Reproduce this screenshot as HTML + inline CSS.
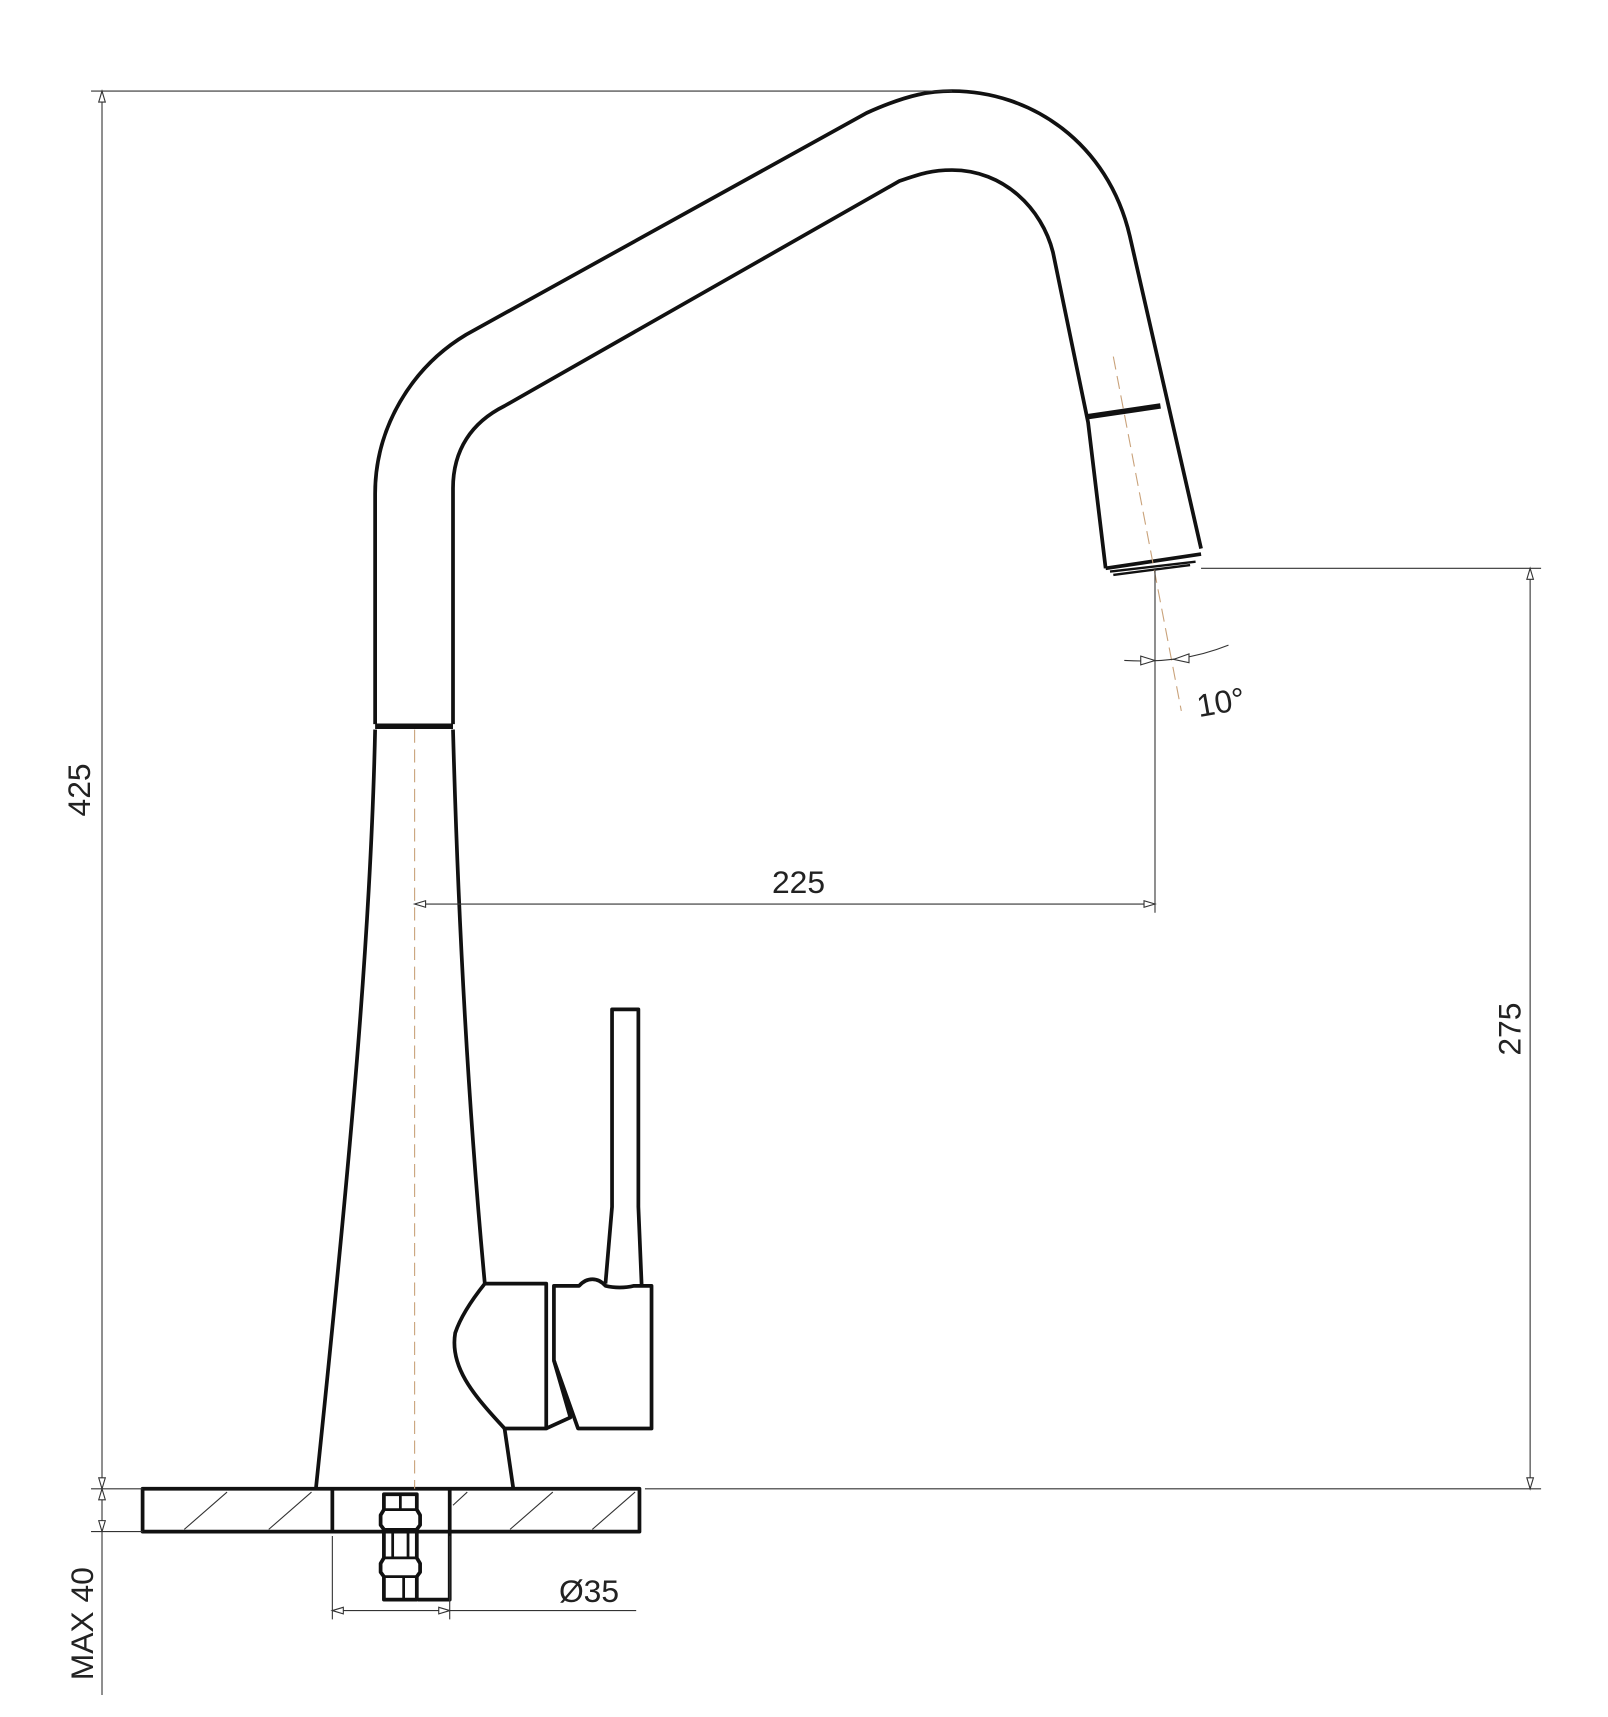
<!DOCTYPE html>
<html><head><meta charset="utf-8"><style>
html,body{margin:0;padding:0;background:#fff;}
svg{display:block;}
text{font-family:"Liberation Sans",sans-serif;fill:#222;}
</style></head><body>
<svg width="1608" height="1717" viewBox="0 0 1466 1565" preserveAspectRatio="none" xmlns="http://www.w3.org/2000/svg">
<g fill="none" stroke="#111" stroke-width="3.4" stroke-linejoin="round">
<path d="M342 660 L342 450 C342 390 375 335 425 305 L790 103 C830 85 850 83 868 83 C940 83 1010 130 1030 215 L1095 500"/>
<path d="M413 660 L413 445 C413 410 430 385 460 370 L820 165 C840 158 850 155 868 155 C915 155 950 190 960 230 L992 385 L1008 518"/>
<path d="M1008 518 L1095 505"/>
<path d="M1012 521 L1090 512" stroke-width="2.2"/>
<path d="M1015 524 L1085 515" stroke-width="2.2"/>
<path d="M990 380 L1058 370" stroke-width="5"/>
<path d="M342 662 L413 662" stroke-width="5"/>
<path d="M342 665 C338 850 320 1050 288 1357"/>
<path d="M413 665 C418 850 428 1020 442 1170"/>
<path d="M460 1302 L468 1357"/>
<path d="M442 1170 L498 1170 L498 1302 L460 1302 C430 1270 410 1245 415 1215 C420 1200 430 1185 442 1170 Z"/>
<path d="M498 1302 L520 1292 L505 1240"/>
<path d="M505 1172 L505 1240 L527 1302 L594 1302 L594 1172 L578 1172 C570 1174 560 1174 552 1172 C545 1164 535 1164 528 1172 Z"/>
<path d="M552 1170 L558 1100 L558 920 L582 920 L582 1100 L585 1172"/>
<rect x="130" y="1357" width="453" height="39"/>
<path d="M303 1357 L303 1396"/>
<path d="M410 1357 L410 1458 L381 1458"/>
<path d="M350 1362 L380 1362 L380 1376 L383 1381 L383 1390 L380 1394 L380 1420 L383 1425 L383 1433 L380 1437 L380 1458 L350 1458 L350 1437 L347 1433 L347 1425 L350 1420 L350 1394 L347 1390 L347 1381 L350 1376 Z"/>
<path d="M350 1376 L380 1376 M350 1394 L380 1394 M350 1420 L380 1420 M350 1437 L380 1437" stroke-width="2.5"/>
<path d="M365 1362 L365 1376 M358 1394 L358 1420 M372 1394 L372 1420 M368 1437 L368 1458" stroke-width="2.5"/>
</g>
<g stroke="#333" stroke-width="1">
<path d="M168 1394 L207 1360 M245 1394 L284 1360 M413 1372 L426 1360 M465 1394 L504 1360 M540 1394 L579 1360"/>
</g>
<g stroke="#c9a27a" stroke-width="1" stroke-dasharray="12,6">
<path d="M378 665 L378 1357"/>
<path d="M1015 325 L1077 648"/>
</g>
<g stroke="#333" stroke-width="1" fill="none">
<path d="M83 83 L868 83"/>
<path d="M93 83 L93 1545"/>
<path d="M83 1357 L130 1357 M83 1396 L130 1396"/>
<path d="M378 824 L1053 824 M1053 518 L1053 832"/>
<path d="M1095 518 L1405 518 M1395 518 L1395 1357 M588 1357 L1405 1357"/>
<path d="M1025 602 C1060 604 1090 600 1120 588"/>
<path d="M303 1400 L303 1476 M410 1400 L410 1476 M303 1468 L580 1468"/>
</g>
<g fill="#fff" stroke="#333" stroke-width="1">
<path d="M93 83 L90 93 L96 93 Z M93 1357 L90 1347 L96 1347 Z M93 1357 L90 1367 L96 1367 Z M93 1396 L90 1386 L96 1386 Z"/>
<path d="M378 824 L388 821 L388 827 Z M1053 824 L1043 821 L1043 827 Z"/>
<path d="M1395 518 L1392 528 L1398 528 Z M1395 1357 L1392 1347 L1398 1347 Z"/>
<path d="M1053 602 L1040 598 L1040 606 Z M1070 601 L1084 596 L1084 604 Z"/>
<path d="M303 1468 L313 1465 L313 1471 Z M410 1468 L400 1465 L400 1471 Z"/>
</g>
<g font-size="29">
<text transform="translate(82 720) rotate(-90)" text-anchor="middle">425</text>
<text transform="translate(1386 938) rotate(-90)" text-anchor="middle">275</text>
<text transform="translate(85 1480) rotate(-90)" text-anchor="middle">MAX 40</text>
<text x="728" y="814" text-anchor="middle">225</text>
<text x="1113" y="650" text-anchor="middle" transform="rotate(-10 1113 640)">10°</text>
<text x="537" y="1460" text-anchor="middle">Ø35</text>
</g>
</svg>
</body></html>
